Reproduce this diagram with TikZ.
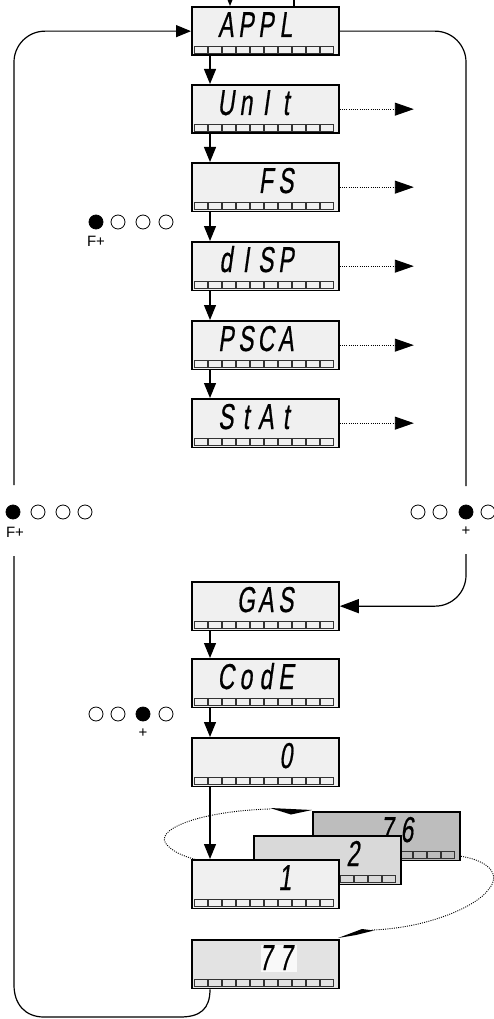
\documentclass[tikz,border=0pt]{standalone}
\usepackage{fontspec}
\setmainfont{Liberation Sans}
\newfontfamily\segfont[FakeSlant=0.14,FakeStretch=0.64,FakeBold=0.5]{Liberation Sans}
\usetikzlibrary{arrows.meta}
\definecolor{lcdgray}{gray}{0.94}
\definecolor{lcdmid}{gray}{0.85}
\definecolor{lcddark}{gray}{0.74}
\definecolor{lcdlow}{gray}{0.89}
\definecolor{lcdhi}{gray}{0.975}
\tikzset{
  lcd/.style={rectangle, draw=black, line width=1.8pt, fill=#1, minimum width=147pt, minimum height=48.5pt, inner sep=0pt, anchor=north west},
  lcd/.default=lcdgray,
  segt/.style={font=\segfont\fontsize{36}{36}\selectfont, inner sep=0pt, anchor=base east},
  cellbox/.style={draw=black!80, line width=0.7pt},
  conn/.style={line width=1.2pt},
  arr/.style={conn, -{Triangle[length=15pt,width=12pt]}},
  dotl/.style={line width=0.9pt, dash pattern=on 1pt off 1.2pt},
  dotarr/.style={dotl, -{Triangle[length=19pt,width=13pt]}},
  ind/.style={circle, draw=black, line width=0.8pt, minimum size=14pt, inner sep=0pt},
  indf/.style={ind, fill=black},
  lbl/.style={font=\fontsize{15}{15}\selectfont, inner sep=0pt},
}
\newcommand\segtxt[1]{\segloop#1\relax}
\def\segloop#1{\ifx\relax#1\else\makebox[20pt][c]{#1}\expandafter\segloop\fi}
% name, x, y, fill
\newcommand\lcdbox[4]{%
  \node[lcd=#4] (#1) at (#2,#3) {};
  \foreach \k in {0,...,9}
    \draw[cellbox] ([shift={(3.5+14*\k,-9.5)}]#1.south west) rectangle ++(12.5,7);
}
% name, text, right offset
\newcommand\lcdtext[3]{%
  \node[segt] (#1-t) at ([shift={(#3,31)}]#1.north west) {\segtxt{#2}};
}
\begin{document}
\begin{tikzpicture}[x=1pt,y=-1pt]
\useasboundingbox (0,0) rectangle (494,1019);
\clip (0,0) rectangle (494,1019);

% ---- upper column
\lcdbox{appl}{191}{6}{lcdgray}   \lcdtext{appl}{APPL}{105}
\lcdbox{unit}{191}{84}{lcdgray}  \lcdtext{unit}{UnIt}{105}
\lcdbox{fs}{191}{162}{lcdgray}   \lcdtext{fs}{FS}{105}
\lcdbox{disp}{191}{241}{lcdgray} \lcdtext{disp}{dISP}{105}
\lcdbox{psca}{191}{320}{lcdgray} \lcdtext{psca}{PSCA}{105}
\lcdbox{stat}{191}{398}{lcdgray} \lcdtext{stat}{StAt}{105}

% ---- lower column
\lcdbox{gas}{191}{581}{lcdgray}  \lcdtext{gas}{GAS}{105}
\lcdbox{code}{191}{658}{lcdgray} \lcdtext{code}{CodE}{105}
\lcdbox{zero}{191}{737}{lcdgray} \lcdtext{zero}{0}{105}

% ---- dotted loop around the stack
\coordinate (ewa) at (270,809);
\draw[dotl] (ewa) .. controls (200,811) and (150,830) .. (168,846)
            .. controls (175,853) and (185,857) .. (205,862);
\fill (270,808) -- (312,810) -- (291,814.5) -- cycle;
\coordinate (ewb) at (372,930);
\draw[dotl] (450,855) .. controls (490,858) and (502,875) .. (488,890)
            .. controls (478,905) and (430,928) .. (ewb);
\fill (338,938) -- (362,929) -- (374,930.5) -- (356,935) -- cycle;

% ---- stacked values
\lcdbox{v76}{312}{811}{lcddark} \lcdtext{v76}{76}{105}
\lcdbox{v2}{253}{835}{lcdmid}   \lcdtext{v2}{2}{110}
\lcdbox{v1}{191}{859}{lcdgray}  \lcdtext{v1}{1}{104}

\lcdbox{v77}{191}{939}{lcdlow}
\fill[lcdhi] ([shift={(70,6)}]v77.north west) rectangle ++(36,27);
\lcdtext{v77}{77}{105}

% ---- vertical arrows
\draw[arr] ([xshift=19pt]appl.south west) -- ([xshift=19pt]unit.north west);
\draw[arr] ([xshift=19pt]unit.south west) -- ([xshift=19pt]fs.north west);
\draw[arr] ([xshift=19pt]fs.south west) -- ([xshift=19pt]disp.north west);
\draw[arr] ([xshift=19pt]disp.south west) -- ([xshift=19pt]psca.north west);
\draw[arr] ([xshift=19pt]psca.south west) -- ([xshift=19pt]stat.north west);
\draw[arr] ([xshift=19pt]gas.south west) -- ([xshift=19pt]code.north west);
\draw[arr] ([xshift=19pt]code.south west) -- ([xshift=19pt]zero.north west);
\draw[arr] ([xshift=19pt]zero.south west) -- ([xshift=19pt]v1.north west);

% ---- dotted outputs
\foreach \n in {unit,fs,disp,psca,stat}{
  \coordinate (\n-o) at ([xshift=74pt]\n.east);
  \draw[dotarr] (\n.east) -- (\n-o);
}

% ---- top lines
\coordinate (tin) at (230,-20);
\coordinate (tout) at (294,-5);
\draw[arr] (tin) -- (tin |- appl.north);
\draw[conn] (tout |- appl.north) -- (tout);

% ---- left loop
\coordinate (lt) at (14,485);
\coordinate (lb) at (14,556);
\draw[conn, rounded corners=31pt, -{Triangle[length=15pt,width=12pt]}] (lt) -- (lt |- appl.west) -- (appl.west);
\draw[conn] ([xshift=19pt]v77.south west) .. controls +(0,20) and (200,1017) .. (180,1017)
   -- (44,1017) .. controls (25,1017) and (14,1004) .. (14,985) -- (lb);

% ---- right loop
\coordinate (rt) at (466,486);
\coordinate (rb) at (466,554);
\draw[conn, rounded corners=31pt] (appl.east) -- (appl.east -| rt) -- (rt);
\draw[conn, rounded corners=31pt, -{Triangle[length=19pt,width=14pt]}] (rb) -- (rb |- gas.east) -- (gas.east);

% ---- indicators
\node[indf] (ia1) at (96,222) {};
\node[ind]  (ia2) at (118,222) {};
\node[ind]  (ia3) at (143,222) {};
\node[ind]  (ia4) at (166,222) {};
\node[lbl]  (ial) at (96,241) {F+};

\node[indf] (ib1) at (13,512) {};
\node[ind]  (ib2) at (38,512) {};
\node[ind]  (ib3) at (63,512) {};
\node[ind]  (ib4) at (85,512) {};
\node[lbl]  (ibl) at (15,532) {F+};

\node[ind]  (ic1) at (418,512) {};
\node[ind]  (ic2) at (440,512) {};
\node[indf] (ic3) at (466,512) {};
\node[ind]  (ic4) at (488,512) {};
\node[lbl]  (icl) at (466,531) {+};

\node[ind]  (id1) at (96,714) {};
\node[ind]  (id2) at (118,714) {};
\node[indf] (id3) at (143,714) {};
\node[ind]  (id4) at (166,714) {};
\node[lbl]  (idl) at (143,733) {+};
\end{tikzpicture}
\end{document}
